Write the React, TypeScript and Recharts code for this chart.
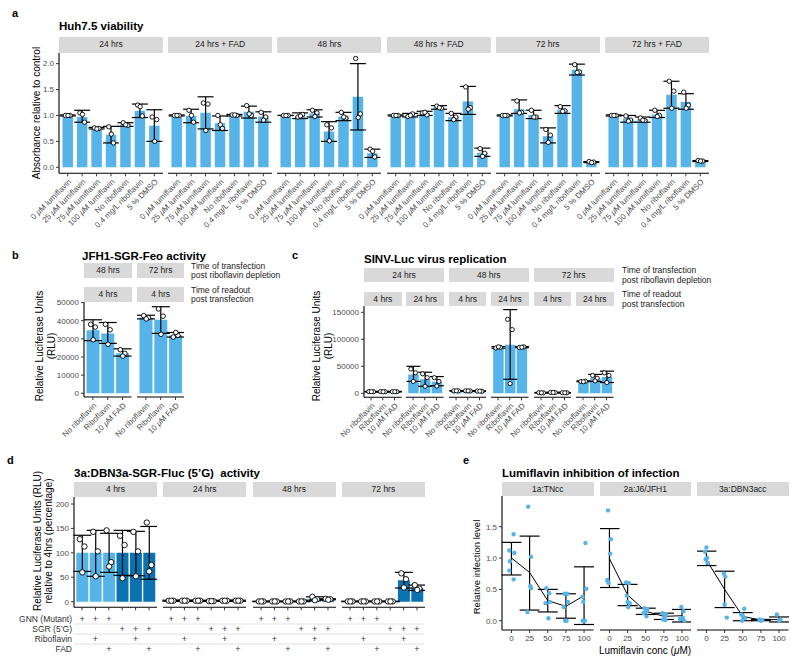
import React from "react";
import { ComposedChart, Bar, XAxis, YAxis, ErrorBar, Scatter, Line, Cell } from "recharts";

const FONT = '"Liberation Sans", Arial, Helvetica, sans-serif';
const LIGHT = "#56B4E9";
const DARK = "#0A72B0";
const STRIP_BG = "#D9D9D9";
const TICK_TXT = "#4D4D4D";

// ---------------- Panel a: Huh7.5 viability ----------------
const aFacets = ["24 hrs", "24 hrs + FAD", "48 hrs", "48 hrs + FAD", "72 hrs", "72 hrs + FAD"];
const aConds = ["0 μM lumiflavin", "25 μM lumiflavin", "75 μM lumiflavin", "100 μM lumiflavin", "No riboflavin", "0.4 mg/L riboflavin", "5 % DMSO"];
const aTicks = [0, 0.5, 1, 1.5, 2];
const aMeans = [
  [1.0, 0.97, 0.75, 0.63, 0.83, 1.09, 0.8],
  [1.0, 0.99, 1.05, 0.85, 1.0, 1.07, 0.98],
  [1.0, 0.99, 1.04, 0.69, 0.98, 1.36, 0.27],
  [1.0, 1.0, 1.04, 1.16, 0.97, 1.27, 0.28],
  [1.0, 1.12, 1.01, 0.6, 1.11, 1.88, 0.1],
  [1.0, 0.94, 0.92, 1.02, 1.4, 1.26, 0.12],
];
const aLow = [
  [0.99, 0.87, 0.74, 0.47, 0.79, 0.96, 0.5],
  [0.99, 0.86, 0.74, 0.71, 0.99, 0.95, 0.87],
  [1.0, 0.94, 0.97, 0.5, 0.9, 0.72, 0.19],
  [0.99, 0.97, 1.0, 1.12, 0.9, 1.02, 0.21],
  [0.99, 1.04, 0.94, 0.47, 1.04, 1.78, 0.09],
  [0.99, 0.87, 0.87, 0.96, 1.14, 1.12, 0.11],
];
const aHigh = [
  [1.01, 1.1, 0.77, 0.79, 0.86, 1.22, 1.11],
  [1.01, 1.12, 1.36, 0.99, 1.02, 1.18, 1.07],
  [1.0, 1.05, 1.11, 0.88, 1.06, 2.0, 0.35],
  [1.01, 1.04, 1.08, 1.19, 1.04, 1.56, 0.37],
  [1.01, 1.3, 1.1, 0.76, 1.19, 1.99, 0.11],
  [1.01, 1.0, 0.97, 1.1, 1.66, 1.42, 0.13],
];
const aPoints = [
  [[1, 1, 1], [1.05, 0.87, 1.02], [0.76, 0.75, 0.74], [0.78, 0.47, 0.64], [0.86, 0.81, 0.82], [1.2, 0.99, 1.17], [0.97, 0.92, 0.5]],
  [[1, 1, 1], [1.1, 0.87, 1.0], [1.24, 1.22, 0.71], [1.0, 0.75, 0.82], [1.01, 1.0, 1.01], [1.19, 1.0, 1.03], [1.06, 0.97, 0.91]],
  [[1, 1, 1], [0.97, 1.02, 0.99], [1.1, 1.05, 0.98], [0.82, 0.76, 0.51], [1.06, 0.95, 0.97], [2.1, 1.03, 0.96], [0.35, 0.2, 0.31]],
  [[1, 1, 1], [0.98, 1.03, 1.0], [1.05, 1.01, 1.06], [1.18, 1.14, 1.15], [1.04, 0.97, 0.92], [1.55, 1.15, 1.12], [0.36, 0.27, 0.21]],
  [[1, 1, 1], [1.28, 1.06, 1.05], [1.1, 0.97, 0.97], [0.73, 0.62, 0.48], [1.17, 1.09, 1.08], [1.98, 1.84, 1.83], [0.11, 0.1, 0.09]],
  [[1, 1, 1], [0.99, 0.91, 0.89], [0.95, 0.9, 0.91], [1.1, 1.0, 0.98], [1.66, 1.47, 1.14], [1.45, 1.2, 1.14], [0.13, 0.12, 0.12]],
];

// ---------------- Panel b: JFH1-SGR-Feo activity ----------------
const bTransfect = ["48 hrs", "72 hrs"];
const bReadout = ["4 hrs", "4 hrs"];
const bConds = ["No riboflavin", "Riboflavin", "10 μM FAD"];
const bTicks = [0, 10000, 20000, 30000, 40000, 50000];
const bMeans = [[34700, 33000, 22000], [41800, 40500, 32000]];
const bLow = [[29000, 27500, 20500], [41000, 33000, 31000]];
const bHigh = [[40500, 39000, 24500], [43000, 47700, 33500]];
const bPoints = [
  [[38000, 36500, 29500], [38000, 35000, 27000], [24000, 22000, 20500]],
  [[42800, 41700, 41000], [46500, 42500, 32500], [31000, 32000, 33500]],
];

// ---------------- Panel c: SINV-Luc virus replication ----------------
const cTransfect = ["24 hrs", "48 hrs", "72 hrs"];
const cReadout = ["4 hrs", "24 hrs", "4 hrs", "24 hrs", "4 hrs", "24 hrs"];
const cConds = ["No riboflavin", "Riboflavin", "10 μM FAD"];
const cTicks = [0, 50000, 100000, 150000];
const cMeans = [[3000, 3000, 3000], [35000, 26000, 21500], [4500, 4500, 4000], [85000, 90000, 85500], [1000, 1500, 1000], [22000, 28000, 30000]];
const cLow = [[2500, 2500, 2500], [22000, 13000, 14000], [4000, 4000, 3500], [83500, 26000, 84500], [500, 1000, 500], [21500, 22000, 20000]];
const cHigh = [[3500, 3500, 3500], [50000, 39000, 31000], [5000, 5000, 4500], [86500, 155000, 86500], [1500, 2000, 1500], [23000, 35000, 41000]];
const cPoints = [
  [[3200, 2800, 3000], [3300, 2900, 2800], [3100, 2900, 3000]],
  [[45000, 38000, 22000], [36000, 29000, 13000], [29000, 22000, 13500]],
  [[4600, 4400, 4500], [4700, 4300, 4500], [4200, 3800, 4000]],
  [[84000, 85000, 86000], [137000, 118000, 18000], [85000, 86000, 85500]],
  [[1200, 800, 1000], [1700, 1300, 1500], [1100, 900, 1000]],
  [[22000, 22500, 21500], [33000, 28000, 23000], [38000, 33000, 20000]],
];

// ---------------- Panel d: 3a:DBN3a-SGR-Fluc (5'G) activity ----------------
const dFacets = ["4 hrs", "24 hrs", "48 hrs", "72 hrs"];
const dConds = ["c1", "c2", "c3", "c4", "c5", "c6"];
const dRowLabels = ["GNN (Mutant)", "SGR (5’G)", "Riboflavin", "FAD"];
const dGNN = [1, 1, 1, 0, 0, 0];
const dSGR = [0, 0, 0, 1, 1, 1];
const dRibo = [0, 1, 0, 0, 1, 0];
const dFAD = [0, 0, 1, 0, 0, 1];
const dTicks = [0, 50, 100, 150, 200];
const dMeans = [[100, 100, 100, 100, 100, 100], [2, 2, 2, 1, 2, 2], [0.5, 0.5, 0.5, 0.5, 6, 5], [0.5, 0.5, 0.5, 0.5, 44, 28]];
const dLow = [[62, 52, 60, 54, 53, 46], [1, 1, 1, 0.5, 1, 1], [0, 0, 0, 0, 3, 4], [0, 0, 0, 0, 28, 23]];
const dHigh = [[136, 146, 140, 146, 144, 154], [3, 3, 3, 1.5, 3, 3], [1, 1, 1, 1, 10, 6], [1, 1, 1, 1, 60, 34]];
const dPoints = [
  [[128, 113, 60], [143, 103, 52], [146, 81, 72], [135, 116, 48], [143, 103, 52], [162, 75, 62]],
  [[2, 2, 2], [2, 2, 2], [2, 2, 2], [1, 1, 1], [2, 2, 2], [2, 2, 2]],
  [[0.5, 0.5, 0.5], [0.5, 0.5, 0.5], [0.5, 0.5, 0.5], [0.5, 0.5, 0.5], [10, 5, 3], [6, 5, 4]],
  [[0.5, 0.5, 0.5], [0.5, 0.5, 0.5], [0.5, 0.5, 0.5], [0.5, 0.5, 0.5], [58, 46, 29], [34, 27, 24]],
];

// ---------------- Panel e: Lumiflavin inhibition of infection ----------------
const eFacets = ["1a:TNcc", "2a:J6/JFH1", "3a:DBN3acc"];
const eConc = [0, 25, 50, 75, 100];
const eTicks = [0, 0.5, 1, 1.5];
const eMeans = [[1.0, 0.77, 0.32, 0.23, 0.4], [0.99, 0.41, 0.15, 0.07, 0.08], [0.97, 0.5, 0.07, 0.01, 0.02]];
const eLow = [[0.73, 0.17, 0.14, 0.04, -0.06], [0.53, 0.24, 0.1, 0.02, -0.02], [0.88, 0.21, 0.0, 0.0, -0.02]];
const eHigh = [[1.25, 1.35, 0.5, 0.43, 0.86], [1.47, 0.58, 0.2, 0.12, 0.18], [1.11, 0.79, 0.13, 0.02, 0.06]];
const ePoints: number[][][] = [
  [[-3, 1.12], [-2, 0.95], [-3, 0.8], [3, 1.38], [4, 1.08], [3, 0.66],
   [23, 1.82], [22, 0.14], [27, 1.02], [26, 0.55], [27, 0.52],
   [48, 0.52], [52, 0.44], [47, 0.28], [53, 0.3], [51, 0.04],
   [73, 0.43], [77, 0.43], [78, 0.3], [72, 0.22], [74, 0.0], [76, 0.0],
   [102, 1.24], [103, 0.51], [98, 0.38], [99, 0.3], [98, 0.0], [101, 0.0]],
  [[-2, 1.76], [2, 1.3], [1, 1.07], [-3, 0.65], [-2, 0.62], [-1, 0.6],
   [23, 0.61], [27, 0.6], [24, 0.4], [25, 0.3], [28, 0.28], [26, 0.22],
   [48, 0.2], [52, 0.18], [50, 0.15], [47, 0.12], [51, 0.07],
   [73, 0.12], [78, 0.1], [76, 0.06], [74, 0.02], [77, 0.01],
   [99, 0.22], [102, 0.15], [101, 0.05], [97, 0.03], [103, 0.0]],
  [[0, 1.17], [-2, 1.1], [1, 1.0], [-1, 0.98], [2, 0.92],
   [24, 0.75], [26, 0.7], [25, 0.26], [28, 0.05],
   [52, 0.19], [48, 0.1], [50, 0.08], [53, 0.04], [49, 0.0],
   [73, 0.02], [77, 0.01], [75, 0.0],
   [97, 0.1], [102, 0.02], [100, 0.0]],
];

// ---------------- helpers ----------------
type Row = { cat: string; mean: number; err: [number, number]; p1: number; p2: number; p3: number; fill: string };

function buildRows(cats: string[], means: number[], lows: number[], highs: number[], pts: number[][], fills: string[]): Row[] {
  return cats.map((c, i) => ({
    cat: c,
    mean: means[i],
    err: [means[i] - lows[i], highs[i] - means[i]] as [number, number],
    p1: pts[i][0],
    p2: pts[i][1],
    p3: pts[i][2],
    fill: fills[i],
  }));
}

const JIT = [-2.2, 2.4, 0.3];
const YW = 40;
const ML = 70;
const MT = 8;

const dotShape = (dx: number, r: number) => (props: any) => {
  if (props.cx == null || props.cy == null) return <g />;
  return <circle cx={props.cx + dx} cy={props.cy} r={r} fill="#fff" stroke="#000" strokeWidth={0.9} />;
};

function italicMu(s: string): any {
  const parts = s.split("μ");
  if (parts.length === 1) return s;
  return [
    <tspan key="a">{parts[0]}</tspan>,
    <tspan key="m" fontStyle="italic">μ</tspan>,
    <tspan key="b">{parts[1]}</tspan>,
  ];
}

const rotTick = (fs: number) => (props: any) => {
  const { x, y, payload } = props;
  return (
    <text x={x} y={y} dy="0.72em" transform={`rotate(-45 ${x} ${y})`} textAnchor="end" fontSize={fs} fill={TICK_TXT} fontFamily={FONT}>
      {italicMu(String(payload.value))}
    </text>
  );
};

const dTick = (props: any) => {
  const { x, y, index } = props;
  const flags = [dGNN, dSGR, dRibo, dFAD];
  const offs = [6.7, 16.7, 26.7, 36.4];
  return (
    <g>
      {flags.map((f, k) =>
        f[index] ? (
          <text key={k} x={x} y={y + offs[k]} textAnchor="middle" dominantBaseline="central" fontSize={9} fill="#333" fontFamily={FONT}>
            +
          </text>
        ) : null
      )}
    </g>
  );
};

type BFP = {
  left: number; top: number; w: number; h: number; xh: number; showY: boolean;
  domain: [number, number]; ticks: number[]; fmt: (v: number) => string;
  rows: Row[]; barSize: number; pad: number; cap: number; r: number; tick: any;
};

function BarFacet(p: BFP) {
  const yw = p.showY ? YW : 0;
  return (
    <div style={{ position: "absolute", left: p.left - yw - ML, top: p.top - MT }}>
      <ComposedChart width={p.w + yw + ML} height={p.h + p.xh + MT} data={p.rows} margin={{ top: MT, right: 0, bottom: 0, left: ML }}>
        <XAxis dataKey="cat" type="category" interval={0} height={p.xh} padding={{ left: p.pad, right: p.pad }}
          tickSize={3} tickMargin={2} tick={p.tick} tickLine={{ stroke: "#333", strokeWidth: 1 }} axisLine={{ stroke: "#000", strokeWidth: 1.1 }} />
        <YAxis type="number" domain={p.domain} allowDataOverflow ticks={p.ticks} interval={0} width={YW} hide={!p.showY}
          tickSize={3} tickMargin={2} tickFormatter={p.fmt} tick={{ fontSize: 8, fill: TICK_TXT, fontFamily: FONT }}
          tickLine={{ stroke: "#333" }} axisLine={{ stroke: "#000", strokeWidth: 1.1 }} />
        <Bar dataKey="mean" barSize={p.barSize} isAnimationActive={false}>
          {p.rows.map((r, i) => <Cell key={i} fill={r.fill} />)}
          <ErrorBar dataKey="err" width={p.cap} stroke="#000" strokeWidth={1.2} />
        </Bar>
        <Scatter dataKey="p1" shape={dotShape(JIT[0], p.r)} isAnimationActive={false} />
        <Scatter dataKey="p2" shape={dotShape(JIT[1], p.r)} isAnimationActive={false} />
        <Scatter dataKey="p3" shape={dotShape(JIT[2], p.r)} isAnimationActive={false} />
      </ComposedChart>
    </div>
  );
}

type EFP = { left: number; top: number; w: number; h: number; xh: number; showY: boolean; fi: number };

function EFacet(p: EFP) {
  const yw = p.showY ? YW : 0;
  const means = eConc.map((c, i) => ({
    x: c,
    mean: eMeans[p.fi][i],
    err: [eMeans[p.fi][i] - eLow[p.fi][i], eHigh[p.fi][i] - eMeans[p.fi][i]],
  }));
  const pts = ePoints[p.fi].map((q) => ({ x: q[0], y: q[1] }));
  return (
    <div style={{ position: "absolute", left: p.left - yw, top: p.top - MT }}>
      <ComposedChart width={p.w + yw} height={p.h + p.xh + MT} data={means} margin={{ top: MT, right: 0, bottom: 0, left: 0 }}>
        <XAxis dataKey="x" type="number" domain={[-13, 113]} allowDataOverflow ticks={eConc} interval={0} height={p.xh}
          tickSize={3} tickMargin={2} tick={{ fontSize: 8, fill: TICK_TXT, fontFamily: FONT }}
          tickLine={{ stroke: "#333" }} axisLine={{ stroke: "#000", strokeWidth: 1.1 }} />
        <YAxis type="number" domain={[-0.148, 1.99]} allowDataOverflow ticks={eTicks} interval={0} width={YW} hide={!p.showY}
          tickSize={3} tickMargin={2} tickFormatter={(v: number) => v.toFixed(1)} tick={{ fontSize: 8, fill: TICK_TXT, fontFamily: FONT }}
          tickLine={{ stroke: "#333" }} axisLine={{ stroke: "#000", strokeWidth: 1.1 }} />
        <Scatter data={pts} dataKey="y" isAnimationActive={false}
          shape={(s: any) => <circle cx={s.cx} cy={s.cy} r={2.2} fill={LIGHT} />} />
        <Line dataKey="mean" type="linear" stroke="#000" strokeWidth={1} dot={false} isAnimationActive={false}>
          <ErrorBar dataKey="err" width={10} stroke="#000" strokeWidth={1.2} />
        </Line>
      </ComposedChart>
    </div>
  );
}

function Strip({ x, y, w, h, label }: { x: number; y: number; w: number; h: number; label: string }) {
  return (
    <div style={{
      position: "absolute", left: x, top: y, width: w, height: h, background: STRIP_BG,
      fontSize: 8.5, lineHeight: `${h}px`, textAlign: "center", color: "#1A1A1A", whiteSpace: "nowrap", fontFamily: FONT,
    }}>{label}</div>
  );
}

function VLabel({ cx, cy, lines, fs, lh }: { cx: number; cy: number; lines: string[]; fs: number; lh: number }) {
  const n = lines.length;
  return (
    <text transform={`translate(${cx},${cy}) rotate(-90)`} textAnchor="middle" fontSize={fs} fill="#000">
      {lines.map((l, i) => (
        <tspan key={i} x={0} y={(i - (n - 1) / 2) * lh} dy="0.35em">{l}</tspan>
      ))}
    </text>
  );
}

function SideNote({ x, cy, lines }: { x: number; cy: number; lines: string[] }) {
  return (
    <text fontSize={8.5} fill="#1A1A1A">
      {lines.map((l, i) => (
        <tspan key={i} x={x} y={cy + (i - 0.5) * 9.4} dy="0.35em">{l}</tspan>
      ))}
    </text>
  );
}

// ---------------- layout ----------------
const aLefts = [59, 168.2, 277.4, 386.6, 495.8, 605];
const bLefts = [84.3, 136.9];
const cLefts = [364, 406.4, 448.8, 491.2, 533.6, 576];
const dLefts = [74, 163.3, 252.6, 341.9];
const eLefts = [502, 599.5, 697];

export default function App() {
  const aTick = rotTick(8);
  const bcTick = rotTick(8);
  return (
    <div style={{ position: "absolute", left: 0, top: 0, width: 800, height: 664, background: "#fff", fontFamily: FONT, overflow: "hidden" }}>
      {/* Panel a */}
      {aFacets.map((f, i) => <Strip key={"as" + i} x={aLefts[i]} y={37.3} w={104} h={15.4} label={f} />)}
      {aFacets.map((f, i) => (
        <BarFacet key={"a" + i} left={aLefts[i]} top={52.7} w={104} h={120.3} xh={62} showY={i === 0}
          domain={[-0.116, 2.205]} ticks={aTicks} fmt={(v) => v.toFixed(1)}
          rows={buildRows(aConds, aMeans[i], aLow[i], aHigh[i], aPoints[i], aConds.map(() => LIGHT))}
          barSize={10.5} pad={1.46} cap={8} r={2.2} tick={aTick} />
      ))}

      {/* Panel b */}
      {bTransfect.map((f, i) => <Strip key={"bs1" + i} x={bLefts[i]} y={263.3} w={47.4} h={14.7} label={f} />)}
      {bReadout.map((f, i) => <Strip key={"bs2" + i} x={bLefts[i]} y={287} w={47.4} h={15} label={f} />)}
      {bTransfect.map((f, i) => (
        <BarFacet key={"b" + i} left={bLefts[i]} top={302} w={47.4} h={95} xh={42} showY={i === 0}
          domain={[-2040, 50300]} ticks={bTicks} fmt={(v) => String(v)}
          rows={buildRows(bConds, bMeans[i], bLow[i], bHigh[i], bPoints[i], bConds.map(() => LIGHT))}
          barSize={13} pad={1.5} cap={9} r={2.3} tick={bcTick} />
      ))}

      {/* Panel c */}
      {cTransfect.map((f, i) => <Strip key={"cs1" + i} x={cLefts[i * 2]} y={267.7} w={80} h={14.6} label={f} />)}
      {cReadout.map((f, i) => <Strip key={"cs2" + i} x={cLefts[i]} y={291.7} w={37.6} h={14.3} label={f} />)}
      {cReadout.map((f, i) => (
        <BarFacet key={"c" + i} left={cLefts[i]} top={306} w={37.6} h={91.3} xh={42} showY={i === 0}
          domain={[-7400, 161700]} ticks={cTicks} fmt={(v) => String(v)}
          rows={buildRows(cConds, cMeans[i], cLow[i], cHigh[i], cPoints[i], cConds.map(() => LIGHT))}
          barSize={10.5} pad={1.2} cap={7} r={2.1} tick={bcTick} />
      ))}

      {/* Panel d */}
      {dFacets.map((f, i) => <Strip key={"ds" + i} x={dLefts[i]} y={482.3} w={83} h={14.7} label={f} />)}
      {dFacets.map((f, i) => (
        <BarFacet key={"d" + i} left={dLefts[i]} top={497} w={83} h={110.3} xh={52} showY={i === 0}
          domain={[-11.5, 214.3]} ticks={dTicks} fmt={(v) => String(v)}
          rows={buildRows(dConds, dMeans[i], dLow[i], dHigh[i], dPoints[i], dSGR.map((s) => (s ? DARK : LIGHT)))}
          barSize={12} pad={1.33} cap={9} r={2.7} tick={dTick} />
      ))}

      {/* Panel e */}
      {eFacets.map((f, i) => <Strip key={"es" + i} x={eLefts[i]} y={481.7} w={91.5} h={14.3} label={f} />)}
      {eFacets.map((f, i) => (
        <EFacet key={"e" + i} left={eLefts[i]} top={496} w={91.5} h={134} xh={30} showY={i === 0} fi={i} />
      ))}

      {/* Text overlay */}
      <svg width={800} height={664} style={{ position: "absolute", left: 0, top: 0, pointerEvents: "none", fontFamily: FONT }}>
        <g fontWeight="bold" fontSize={11} fill="#000">
          <text x={12} y={13} dominantBaseline="central">a</text>
          <text x={12} y={255} dominantBaseline="central">b</text>
          <text x={292} y={255} dominantBaseline="central">c</text>
          <text x={7} y={460} dominantBaseline="central">d</text>
          <text x={463} y={460} dominantBaseline="central">e</text>
        </g>
        <g fontWeight="bold" fontSize={11.5} fill="#000">
          <text x={59} y={26} dominantBaseline="central">Huh7.5 viability</text>
          <text x={82} y={256} dominantBaseline="central">JFH1-SGR-Feo activity</text>
          <text x={364} y={259} dominantBaseline="central">SINV-Luc virus replication</text>
          <text x={74} y={473} dominantBaseline="central" style={{ whiteSpace: "pre" }}>{"3a:DBN3a-SGR-Fluc (5’G)  activity"}</text>
          <text x={502} y={473} dominantBaseline="central">Lumiflavin inhibition of infection</text>
        </g>
        <VLabel cx={36} cy={113} lines={["Absorbance relative to control"]} fs={10} lh={12} />
        <VLabel cx={45} cy={346} lines={["Relative Luciferase Units", "(RLU)"]} fs={10} lh={12} />
        <VLabel cx={322.5} cy={346} lines={["Relative Luciferase Units", "(RLU)"]} fs={10} lh={11.5} />
        <VLabel cx={42.5} cy={541} lines={["Relative Luciferase Units (RLU)", "relative to 4hrs (percentage)"]} fs={10} lh={11} />
        <VLabel cx={477} cy={567} lines={["Relative infection level"]} fs={9.5} lh={11} />
        <text x={645} y={650} textAnchor="middle" dominantBaseline="central" fontSize={10} fill="#000">{italicMu("Lumiflavin conc (μM)")}</text>

        <SideNote x={191} cy={270.7} lines={["Time of transfection", "post riboflavin depletion"]} />
        <SideNote x={191} cy={294.5} lines={["Time of readout", "post transfection"]} />
        <SideNote x={622} cy={275} lines={["Time of transfection", "post riboflavin depletion"]} />
        <SideNote x={622} cy={299} lines={["Time of readout", "post transfection"]} />

        {/* Panel d condition table */}
        {[624, 634, 644].map((y) => (
          <line key={y} x1={74} x2={424} y1={y} y2={y} stroke="#D9D9D9" strokeWidth={0.8} />
        ))}
        {dRowLabels.map((l, k) => (
          <text key={l} x={72} y={[619, 629, 639, 648.7][k]} textAnchor="end" dominantBaseline="central" fontSize={8.5} fill="#333">{l}</text>
        ))}
      </svg>
    </div>
  );
}
